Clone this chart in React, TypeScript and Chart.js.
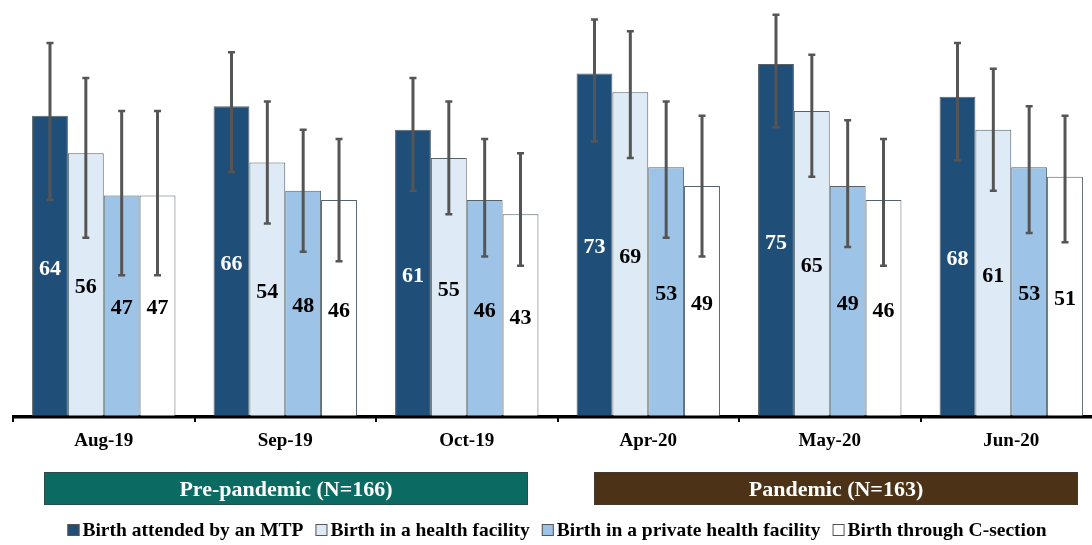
import React, { useEffect, useRef } from "react";
import { Chart, registerables } from "chart.js";

Chart.register(...registerables);

const CATEGORIES = ["Aug-19", "Sep-19", "Oct-19", "Apr-20", "May-20", "Jun-20"];
const SERIES_NAMES = [
  "Birth attended by an MTP",
  "Birth in a health facility",
  "Birth in a private health facility",
  "Birth through C-section",
];
const MTP = [64, 66, 61, 73, 75, 68];
const FACILITY = [56, 54, 55, 69, 65, 61];
const PRIVATE = [47, 48, 46, 53, 49, 53];
const CSECTION = [47, 46, 43, 49, 46, 51];

const MTP_LO = [46, 52, 48, 58.5, 61.5, 54.5];
const MTP_HI = [79.5, 77.5, 72, 84.5, 85.5, 79.5];
const FACILITY_LO = [38, 41, 43, 55, 51, 48];
const FACILITY_HI = [72, 67, 67, 82, 77, 74];
const PRIVATE_LO = [30, 35, 34, 38, 36, 39];
const PRIVATE_HI = [65, 61, 59, 67, 63, 66];
const CSECTION_LO = [30, 33, 32, 34, 32, 37];
const CSECTION_HI = [65, 59, 56, 64, 59, 64];

const PERIOD_LABELS = ["Pre-pandemic (N=166)", "Pandemic (N=163)"];

const VALUES = [MTP, FACILITY, PRIVATE, CSECTION];
const LOWS = [MTP_LO, FACILITY_LO, PRIVATE_LO, CSECTION_LO];
const HIGHS = [MTP_HI, FACILITY_HI, PRIVATE_HI, CSECTION_HI];
const COLORS = ["#1F4E79", "#DEEBF7", "#9DC3E6", "#FFFFFF"];
const LABEL_COLORS = ["#FFFFFF", "#000000", "#000000", "#000000"];
const SERIF = "'Liberation Serif', 'Times New Roman', serif";

const BANNERS = [
  { text: PERIOD_LABELS[0], left: 44, right: 528, color: "#0B6A62" },
  { text: PERIOD_LABELS[1], left: 594, right: 1078, color: "#4C3216" },
];

const decorPlugin = {
  id: "decor",
  afterDatasetsDraw(chart: any) {
    const ctx = chart.ctx;
    const y = chart.scales.y;
    const area = chart.chartArea;
    ctx.save();
    // axis line over the bar bottoms
    ctx.strokeStyle = "#000000";
    ctx.lineWidth = 3;
    ctx.beginPath();
    ctx.moveTo(area.left - 1, area.bottom + 1);
    ctx.lineTo(area.right + 1, area.bottom + 1);
    ctx.stroke();
    // data labels
    ctx.font = `bold 22px ${SERIF}`;
    ctx.textAlign = "center";
    ctx.textBaseline = "middle";
    chart.data.datasets.forEach((ds: any, i: number) => {
      const meta = chart.getDatasetMeta(i);
      meta.data.forEach((bar: any, j: number) => {
        ctx.fillStyle = LABEL_COLORS[i];
        ctx.fillText(String(VALUES[i][j]), bar.x, (bar.y + bar.base) / 2 + 3);
      });
    });
    // error bars
    ctx.strokeStyle = "#555555";
    ctx.lineCap = "butt";
    chart.data.datasets.forEach((ds: any, i: number) => {
      const meta = chart.getDatasetMeta(i);
      meta.data.forEach((bar: any, j: number) => {
        const yl = y.getPixelForValue(LOWS[i][j]);
        const yh = y.getPixelForValue(HIGHS[i][j]);
        ctx.lineWidth = 3;
        ctx.beginPath();
        ctx.moveTo(bar.x, yl);
        ctx.lineTo(bar.x, yh);
        ctx.stroke();
        ctx.lineWidth = 2.5;
        ctx.beginPath();
        ctx.moveTo(bar.x - 3.5, yl);
        ctx.lineTo(bar.x + 3.5, yl);
        ctx.moveTo(bar.x - 3.5, yh);
        ctx.lineTo(bar.x + 3.5, yh);
        ctx.stroke();
      });
    });
    ctx.restore();
  },
  afterDraw(chart: any) {
    const ctx = chart.ctx;
    ctx.save();
    // banners
    BANNERS.forEach((b) => {
      ctx.fillStyle = b.color;
      ctx.fillRect(b.left, 472, b.right - b.left, 33);
      ctx.strokeStyle = "rgba(60,60,60,0.6)";
      ctx.lineWidth = 1;
      ctx.strokeRect(b.left + 0.5, 472.5, b.right - b.left - 1, 32);
      ctx.fillStyle = "#FFFFFF";
      ctx.font = `bold 22px ${SERIF}`;
      ctx.textAlign = "center";
      ctx.textBaseline = "middle";
      ctx.fillText(b.text, (b.left + b.right) / 2, 490);
    });
    // legend
    ctx.font = `bold 19.5px ${SERIF}`;
    ctx.textBaseline = "middle";
    ctx.textAlign = "left";
    const box = 12;
    const gapText = 3;
    const gapItem = 12;
    const widths = SERIES_NAMES.map((n) => ctx.measureText(n).width);
    const total =
      widths.reduce((a, b) => a + b, 0) + SERIES_NAMES.length * (box + gapText) + (SERIES_NAMES.length - 1) * gapItem;
    let x = 557 - total / 2;
    const ly = 530;
    SERIES_NAMES.forEach((n, i) => {
      ctx.fillStyle = COLORS[i];
      ctx.fillRect(x, ly - box / 2, box, box);
      ctx.strokeStyle = "#555555";
      ctx.lineWidth = 1;
      ctx.strokeRect(x + 0.5, ly - box / 2 + 0.5, box - 1, box - 1);
      x += box + gapText;
      ctx.fillStyle = "#000000";
      ctx.fillText(n, x, ly + 1);
      x += widths[i] + gapItem;
    });
    ctx.restore();
  },
};

export default function App() {
  const ref = useRef<HTMLCanvasElement | null>(null);
  useEffect(() => {
    if (!ref.current) return;
    const chart = new Chart(ref.current, {
      type: "bar",
      data: {
        labels: CATEGORIES,
        datasets: SERIES_NAMES.map((name, i) => ({
          label: name,
          data: VALUES[i],
          backgroundColor: COLORS[i],
          borderColor: "#56636A",
          borderWidth: 1,
          barPercentage: 1,
          categoryPercentage: 0.79,
        })),
      },
      options: {
        responsive: false,
        animation: false,
        devicePixelRatio: 1,
        layout: { padding: { left: 13, right: 8, top: 3, bottom: 0 } },
        plugins: { legend: { display: false }, tooltip: { enabled: false } },
        scales: {
          y: { display: false, min: 0, max: 88 },
          x: {
            afterFit: (scale: any) => {
              scale.height = 129;
            },
            border: { display: true, color: "#000000", width: 3 },
            grid: {
              display: true,
              drawOnChartArea: false,
              drawTicks: true,
              tickLength: 6,
              color: "#000000",
              lineWidth: 2,
              offset: true,
            },
            ticks: {
              color: "#000000",
              padding: 8,
              font: { family: SERIF, size: 19, weight: "bold" },
            },
          },
        },
      },
      plugins: [decorPlugin],
    });
    return () => chart.destroy();
  }, []);
  return (
    <div
      style={{
        position: "fixed",
        left: 0,
        top: 0,
        width: 1092,
        height: 545,
        overflow: "hidden",
        background: "#FFFFFF",
      }}
    >
      <canvas ref={ref} width={1110} height={545} style={{ display: "block" }} />
    </div>
  );
}
